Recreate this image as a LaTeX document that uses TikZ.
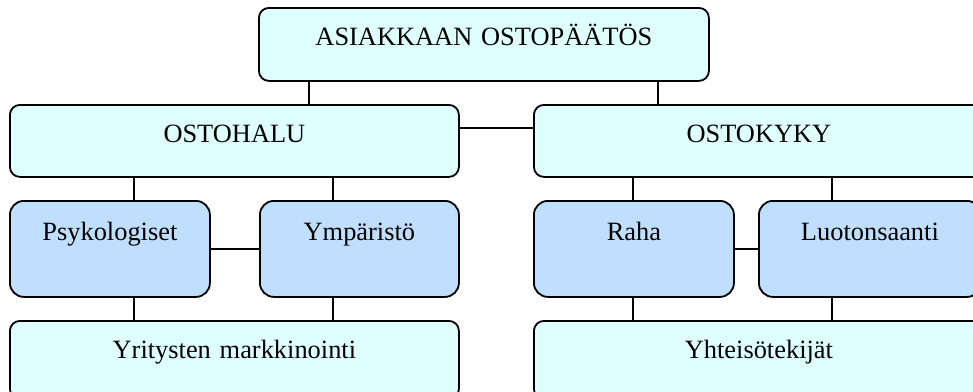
\documentclass[tikz,border=0pt]{standalone}
\usepackage{fontspec}
\setmainfont{Liberation Serif}
\definecolor{boxcyan}{HTML}{DFFFFF}
\definecolor{boxblue}{HTML}{C0DFFF}
\begin{document}
\begin{tikzpicture}[x=1pt,y=-1pt,
  font=\fontsize{26.4}{30}\selectfont,
  wide/.style={draw=black, line width=1.8pt, fill=boxcyan, rounded corners=10pt,
    anchor=north west, inner sep=0pt, text height=38pt, text width=#1, align=center},
  factor/.style={draw=black, line width=1.8pt, fill=boxblue, rounded corners=14pt,
    anchor=north west, inner sep=0pt, text height=40pt, text depth=56pt, text width=#1, align=center},
  link/.style={line width=1.3pt, draw=black}]
\useasboundingbox (0,0) rectangle (973,391);
\clip (0,0) rectangle (973,391);

% top level
\node[wide=450pt, text depth=35pt] (top) at (258,7) {ASIAKKAAN OSTOPÄÄTÖS};

% second level
\node[wide=449pt, text depth=34pt] (halu) at (9,104) {OSTOHALU};
\node[wide=450pt, text depth=34pt] (kyky) at (533,104) {OSTOKYKY};

% factors
\node[factor=200pt] (psy) at (9,200) {Psykologiset};
\node[factor=199pt] (ymp) at (259,200) {Ympäristö};
\node[factor=200pt] (raha) at (533,200) {Raha};
\node[factor=222pt] (luot) at (758,200) {Luotonsaanti};

% bottom level
\node[wide=449pt, text depth=40pt] (mark) at (9,320) {Yritysten markkinointi};
\node[wide=450pt, text depth=40pt] (yht) at (533,320) {Yhteisötekijät};

% connector positions
\coordinate (xa) at (309,0);
\coordinate (xb) at (658,0);
\coordinate (xc) at (134,0);
\coordinate (xd) at (333,0);
\coordinate (xe) at (633,0);
\coordinate (xf) at (832,0);
\coordinate (ya) at (0,128);

% connectors
\draw[link] (xa |- top.south) -- (xa |- halu.north);
\draw[link] (xb |- top.south) -- (xb |- kyky.north);
\draw[link] (halu.east |- ya) -- (kyky.west |- ya);

\draw[link] (xc |- halu.south) -- (xc |- psy.north);
\draw[link] (xd |- halu.south) -- (xd |- ymp.north);
\draw[link] (psy.east) -- (ymp.west);
\draw[link] (xc |- psy.south) -- (xc |- mark.north);
\draw[link] (xd |- ymp.south) -- (xd |- mark.north);

\draw[link] (xe |- kyky.south) -- (xe |- raha.north);
\draw[link] (xf |- kyky.south) -- (xf |- luot.north);
\draw[link] (raha.east) -- (luot.west);
\draw[link] (xe |- raha.south) -- (xe |- yht.north);
\draw[link] (xf |- luot.south) -- (xf |- yht.north);
\end{tikzpicture}
\end{document}
